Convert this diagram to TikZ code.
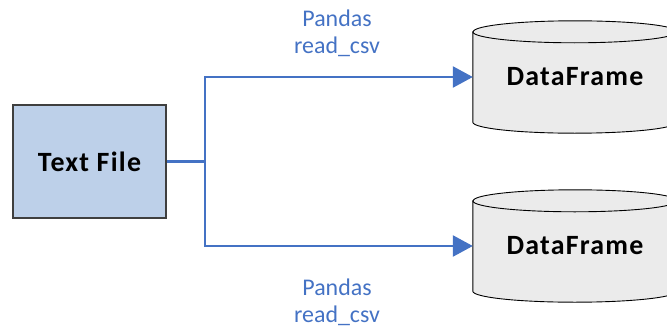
\documentclass[tikz,border=0pt]{standalone}
\usepackage{fontspec}
\setmainfont{Carlito}
\usetikzlibrary{arrows.meta}

\definecolor{flowblue}{HTML}{4472C4}
\definecolor{filefill}{HTML}{BDD0E9}
\definecolor{dffill}{HTML}{EBEBEB}
\definecolor{fileborder}{HTML}{3F3F3F}

\begin{document}
\begin{tikzpicture}[x=1bp, y=1bp,
  boldtext/.style={font=\fontsize{28}{34}\selectfont\bfseries\addfontfeature{LetterSpace=4.5}},
  filebox/.style={boldtext, draw=fileborder, line width=1.2bp, fill=filefill,
    minimum width=153bp, minimum height=113bp, inner sep=0pt},
  dfbox/.style={boldtext, rectangle, minimum width=204bp, minimum height=112bp, inner sep=0pt},
  flow/.style={draw=flowblue, line width=2.6bp, -{Triangle[length=20bp, width=21bp]}},
  lbl/.style={text=flowblue, align=center, font=\fontsize{24}{27}\selectfont}
]
  \useasboundingbox (0,0) rectangle (667,329);

  % cylinder body with top rim
  \newcommand{\dbcyl}[1]{%
    \path[draw=black, line width=0.9bp, fill=dffill]
      (#1.north west) ++(0,-11) coordinate (cyltl)
      (#1.south west) ++(0,11) coordinate (cylbl)
      (#1.south east) ++(0,11) coordinate (cylbr)
      (#1.north east) ++(0,-11) coordinate (cyltr)
      (cyltl) -- (cylbl)
        arc[start angle=180, end angle=360, x radius=102, y radius=11]
        -- (cyltr)
        arc[start angle=0, end angle=180, x radius=102, y radius=11] -- cycle;
    \draw[black, line width=0.9bp]
      (cyltl) arc[start angle=180, end angle=360, x radius=102, y radius=11];
  }

  \node[filebox] (tf) at (89.5,167.5) {Text File};

  \node[dfbox] (df1) at (575,252) {};
  \node[dfbox] (df2) at (575,83) {};
  \dbcyl{df1}
  \dbcyl{df2}
  \node[dfbox] at (df1.center) {DataFrame};
  \node[dfbox] at (df2.center) {DataFrame};

  \coordinate (split) at (205,167.5);
  \draw[flowblue, line width=2.6bp] (tf.east) -- (split);
  \draw[flow] (split) |- (df1.west);
  \draw[flow] (split) |- (df2.west);

  \node[lbl] (l1) at (337,296) {Pandas\\read\_csv};
  \node[lbl] (l2) at (337,27) {Pandas\\read\_csv};
\end{tikzpicture}
\end{document}
